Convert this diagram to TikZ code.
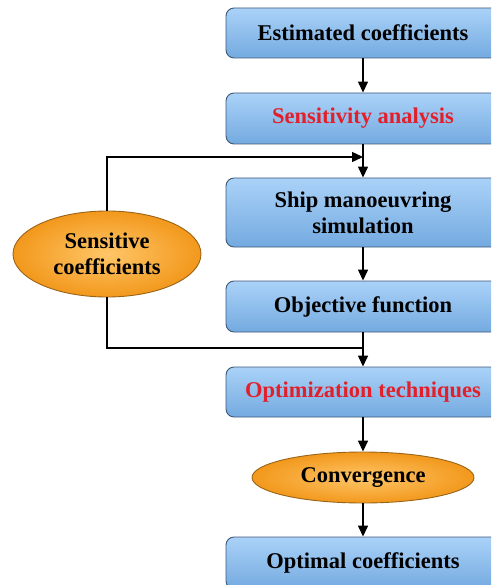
\documentclass[tikz,border=0pt]{standalone}
\usepackage{fontspec}
\setmainfont{Liberation Serif}
\usetikzlibrary{shapes.geometric,arrows.meta}
\definecolor{boxtop}{HTML}{AAD2F8}
\definecolor{boxbot}{HTML}{74AAE0}
\definecolor{boxline}{HTML}{3D5878}
\definecolor{ovin}{HTML}{FFC668}
\definecolor{ovout}{HTML}{F2981C}
\definecolor{ovline}{HTML}{9A6418}
\definecolor{redtxt}{HTML}{E2202B}
\tikzset{
  flowbox/.style={rectangle, rounded corners=8pt, draw=boxline, line width=0.9pt,
    top color=boxtop, bottom color=boxbot, minimum width=274pt, inner sep=0pt,
    align=center, font=\fontsize{22.5}{26}\selectfont\bfseries},
  oval/.style={ellipse, draw=ovline, line width=0.9pt, inner color=ovin, outer color=ovout,
    inner sep=0pt, align=center, font=\fontsize{22.5}{26}\selectfont\bfseries},
  conn/.style={line width=1.4pt, black},
  arr/.style={conn, -{Triangle[length=11pt,width=10pt]}},
}
\begin{document}
\begin{tikzpicture}[x=1pt,y=-1pt]
\useasboundingbox (0,0) rectangle (491,585);
\clip (0,0) rectangle (491,585);
\node[flowbox, minimum height=50pt] (b1) at (363,33) {Estimated coefficients};
\node[flowbox, minimum height=51pt, text=redtxt] (b2) at (363,118.5) {Sensitivity analysis};
\node[flowbox, minimum height=69pt] (b3) at (363,212.5) {Ship manoeuvring\\simulation};
\node[flowbox, minimum height=51pt] (b4) at (363,306.5) {Objective function};
\node[flowbox, minimum height=50pt, text=redtxt] (b5) at (363,392) {Optimization techniques};
\node[flowbox, minimum height=52pt] (b6) at (363,563) {Optimal coefficients};
\node[oval, minimum width=188pt, minimum height=86pt] (e1) at (107,254) {Sensitive\\coefficients};
\node[oval, minimum width=222pt, minimum height=51pt] (e2) at (363,477.5) {Convergence};
\coordinate (j1) at (363,157);
\coordinate (j2) at (363,348);
\draw[arr] (b1.south) -- (b2.north);
\draw[arr] (b2.south) -- (b3.north);
\draw[arr] (e1.north) |- (j1);
\draw[arr] (b3.south) -- (b4.north);
\draw[conn] (e1.south) |- (j2);
\draw[arr] (b4.south) -- (b5.north);
\draw[arr] (b5.south) -- (e2.north);
\draw[arr] (e2.south) -- (b6.north);
\end{tikzpicture}
\end{document}
